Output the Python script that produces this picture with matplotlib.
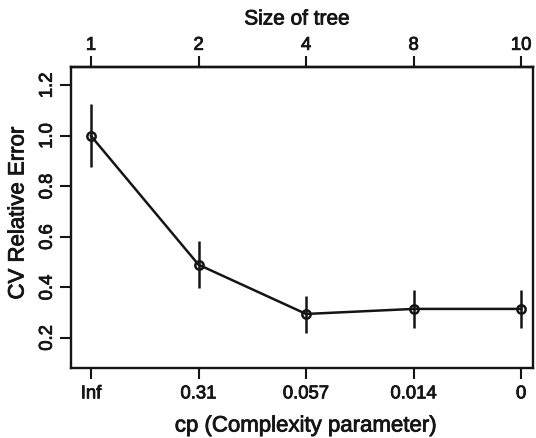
import numpy as np
import matplotlib
matplotlib.use("Agg")
from matplotlib import pyplot as plt
import matplotlib.patheffects as pe

# values (rpart plotcp)
cp_labels = ["Inf", "0.31", "0.057", "0.014", "0"]
tree_sizes = ["1", "2", "4", "8", "10"]
xerror = [1.0, 0.49, 0.295, 0.315, 0.315]
xerr_hi = [1.127, 0.582, 0.367, 0.391, 0.391]
xerr_lo = [0.876, 0.398, 0.22, 0.238, 0.238]
y_ticks = [0.2, 0.4, 0.6, 0.8, 1.0, 1.2]

plt.rcParams['font.family'] = ['Liberation Sans', 'DejaVu Sans']

W, H = 536, 439
col = "#151515"
# slight stroke so text reads as heavy as the reference
thick = [pe.withStroke(linewidth=0.6, foreground=col)]

fig = plt.figure(figsize=(W / 100, H / 100), dpi=100)
ax = fig.add_axes([71 / W, 1 - 369 / H, (533 - 71) / W, (369 - 68) / H])

x = np.arange(1, len(xerror) + 1)
ax.vlines(x, xerr_lo, xerr_hi, color=col, lw=1.8)
ax.plot(x, xerror, color=col, lw=1.8, marker="o", ms=6, mfc="none", mec=col, mew=1.8)

ax.set_xlim(0.814, 5.11)
ax.set_ylim(0.081, 1.273)

ax.set_xticks(x)
ax.set_xticklabels(cp_labels, fontsize=13.3, color=col)
ax.set_yticks(y_ticks)
ax.set_yticklabels([f"{v:.1f}" for v in y_ticks], fontsize=13.3,
                   color=col, rotation=90, va="center")
ax.tick_params(length=8, width=1.5, color=col)
ax.tick_params(axis="x", pad=4.5)
ax.tick_params(axis="y", pad=3)
for s in ax.spines.values():
    s.set_linewidth(1.7)
    s.set_color(col)

top = ax.secondary_xaxis("top")
top.set_xticks(x)
top.set_xticklabels(tree_sizes, fontsize=13.3, color=col)
top.tick_params(length=8, width=1.5, color=col, pad=1.5)
top.spines["top"].set_linewidth(1.7)

for t in ax.get_xticklabels() + ax.get_yticklabels() + top.get_xticklabels():
    t.set_path_effects(thick)

# axis titles placed by pixel position
fig.text(306 / W, 1 - 427 / H, "cp (Complexity parameter)", fontsize=16,
         color=col, ha="center", va="center", path_effects=thick)
fig.text(18 / W, 1 - 214 / H, "CV Relative Error", fontsize=16,
         color=col, ha="center", va="center", rotation=90, path_effects=thick)
fig.text(297 / W, 1 - 20 / H, "Size of tree", fontsize=15,
         color=col, ha="center", va="center", path_effects=thick)

fig.savefig("out.png", dpi=100)
